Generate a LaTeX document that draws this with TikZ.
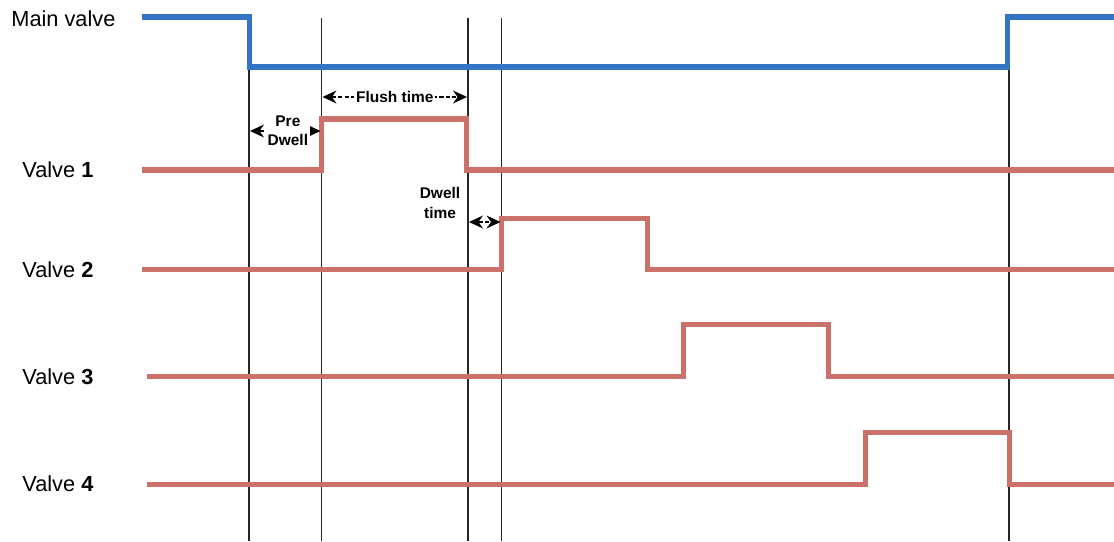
\documentclass[tikz,border=0pt]{standalone}
\usepackage{fontspec}
\setmainfont{Liberation Sans}
\usetikzlibrary{arrows.meta, positioning, calc}
\definecolor{mainblue}{RGB}{52,116,198}
\definecolor{valvered}{RGB}{204,112,106}
\tikzstyle{mainsig} = [line width=2.85pt, draw=mainblue]
\tikzstyle{valvesig} = [line width=2.85pt, draw=valvered]
\tikzstyle{marker} = [line width=0.6pt, draw=black!85]
\tikzstyle{span} = [line width=1.1pt, dash pattern=on 2.4pt off 1.2pt, {Stealth[length=2.8mm,width=2.6mm,line width=0pt]}-{Stealth[length=2.8mm,width=2.6mm,line width=0pt]}]

\begin{document}
\begin{tikzpicture}[x=0.02cm, y=-0.02cm]

    % --- Estilos ---
    \tikzset{
        siglabel/.style={anchor=west, inner sep=0pt, font=\fontsize{12.4}{15}\selectfont},
        spanlabel/.style={fill=white, inner sep=1pt, align=center, font=\fontsize{8.8}{11}\selectfont\bfseries}
    }
    \useasboundingbox (0,0) rectangle (1114,541);

    % --- Tiempos ---
    \coordinate (tpre) at (249,0);
    \coordinate (tflush) at (321.5,0);
    \coordinate (tend) at (468,0);
    \coordinate (tdwell) at (501.5,0);
    \coordinate (tclose) at (1009,0);

    % --- Etiquetas ---
    \node (lblmain) [siglabel] at (11,19) {Main valve};
    \node (lbl1) [siglabel] at (22,170) {Valve \textbf{1}};
    \node (lbl2) [siglabel] at (22,270) {Valve \textbf{2}};
    \node (lbl3) [siglabel] at (22,377) {Valve \textbf{3}};
    \node (lbl4) [siglabel] at (22,484) {Valve \textbf{4}};

    % --- Lineas de tiempo ---
    \draw [marker] (tpre |- 0,67) -- (tpre |- 0,541);
    \draw [marker] (tflush |- 0,18) -- (tflush |- 0,541);
    \draw [marker] (tend |- 0,18) -- (tend |- 0,541);
    \draw [marker] (tdwell |- 0,18) -- (tdwell |- 0,541);
    \draw [marker] (tclose |- 0,67) -- (tclose |- 0,541);

    % --- Senales ---
    \draw [mainsig] (142,17) -- (249,17) -- (249,67) -- (1007,67) -- (1007,17) -- (1114,17);
    \draw [valvesig] (142,170) -- (321,170) -- (321,119) -- (466,119) -- (466,170) -- (1114,170);
    \draw [valvesig] (142,269) -- (501,269) -- (501,218) -- (647,218) -- (647,269) -- (1114,269);
    \draw [valvesig] (147,376) -- (683,376) -- (683,324) -- (828,324) -- (828,376) -- (1114,376);
    \draw [valvesig] (147,484) -- (865,484) -- (865,432) -- (1009,432) -- (1009,484) -- (1114,484);

    % --- Intervalos ---
    \draw [span] ($(tflush)+(1,97)$) -- node [spanlabel] (flush) {Flush time} ($(tend)+(-1,97)$);
    \draw [span] ($(tpre)+(1,131)$) -- node [spanlabel, xshift=1.5] (pre) {Pre\\Dwell} ($(tflush)+(-1,131)$);
    \draw [span] ($(tend)+(1,222)$) -- ($(tdwell)+(-1,222)$);
    \node (dwell) [spanlabel, fill=none] at (440,203) {Dwell\\time};

\end{tikzpicture}
\end{document}
